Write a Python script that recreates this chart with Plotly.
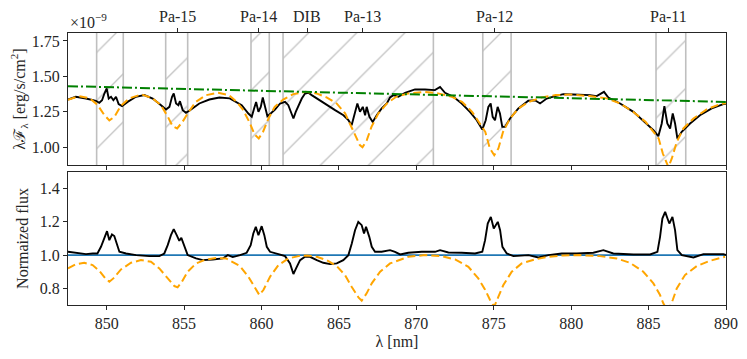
import plotly.graph_objects as go
import plotly.subplots as sp

# --- spectral windows (hatched) and line markers ---
span_lo = [849.35, 853.81, 859.32, 861.39, 874.29, 885.48]
span_hi = [851.07, 855.23, 860.50, 871.10, 876.12, 887.40]
line_wl = [854.54, 859.80, 862.95, 866.50, 875.05, 886.28]
line_names = ['Pa-15', 'Pa-14', 'DIB', 'Pa-13', 'Pa-12', 'Pa-11']

# --- continuum (x1e-9) ---
cont_wl = [847.5, 890.0]
cont_flux = [1.431, 1.320]

# --- model spectrum (x1e-9) ---
model_wl = [847.5, 848.2, 848.9, 849.4, 849.85, 850.17, 850.5, 850.9, 851.45, 852.25,
            852.95, 853.5, 853.95, 854.25, 854.55, 854.9, 855.3, 855.75, 856.4, 857.2,
            857.9, 858.4, 858.8, 859.25, 859.55, 859.82, 860.1, 860.45, 860.85, 861.4,
            862.05, 862.85, 863.55, 864.2, 864.85, 865.4, 865.7, 866.05, 866.35, 866.52,
            866.8, 867.1, 867.55, 868.1, 868.7, 869.5, 870.55, 871.4, 872.3, 872.95,
            873.6, 874.1, 874.45, 874.75, 875.03, 875.3, 875.6, 876.05, 876.6, 877.25,
            878.1, 879.0, 880.0, 881.2, 882.3, 883.15, 884.0, 884.8, 885.3, 885.65,
            885.92, 886.28, 886.5, 886.82, 887.25, 887.9, 888.75, 889.6, 890.0]
model_flux = [1.335, 1.361, 1.345, 1.300, 1.227, 1.190, 1.215, 1.290, 1.345, 1.373,
              1.346, 1.298, 1.215, 1.150, 1.133, 1.180, 1.250, 1.320, 1.367, 1.384,
              1.368, 1.320, 1.265, 1.170, 1.090, 1.062, 1.110, 1.203, 1.285, 1.337,
              1.375, 1.391, 1.380, 1.352, 1.309, 1.239, 1.168, 1.085, 1.015, 1.000,
              1.050, 1.144, 1.239, 1.309, 1.356, 1.380, 1.391, 1.380, 1.356, 1.320,
              1.250, 1.168, 1.109, 0.992, 0.944, 0.992, 1.109, 1.203, 1.274, 1.320,
              1.352, 1.368, 1.372, 1.361, 1.345, 1.309, 1.250, 1.180, 1.109, 1.062,
              0.956, 0.860, 0.921, 1.038, 1.133, 1.203, 1.267, 1.304, 1.310]

# --- observed spectrum (x1e-9) ---
obs_wl = [847.5, 848.0, 848.66, 849.3, 849.52, 849.7, 849.85, 850.0, 850.13, 850.28,
          850.43, 850.6, 850.77, 850.99, 851.35, 851.89, 852.43, 852.97, 853.51, 853.83,
          854.05, 854.22, 854.33, 854.48, 854.63, 854.73, 854.91, 855.12, 855.45, 855.98,
          856.63, 857.28, 857.95, 858.4, 858.72, 859.15, 859.37, 859.52, 859.65, 859.8,
          859.95, 860.08, 860.23, 860.38, 860.59, 860.87, 861.2, 861.52, 861.73, 861.95,
          862.06, 862.21, 862.38, 862.6, 862.81, 863.03, 863.24, 863.67, 864.21, 864.75,
          865.29, 865.61, 865.82, 866.04, 866.19, 866.36, 866.54, 866.69, 866.79, 866.97,
          867.18, 867.44, 867.76, 868.09, 868.3, 868.52, 868.84, 869.27, 869.91, 870.56,
          871.2, 871.53, 871.85, 872.39, 872.93, 873.46, 873.9, 874.26, 874.48, 874.65,
          874.8, 874.93, 875.08, 875.25, 875.4, 875.55, 875.73, 876.05, 876.59, 877.23,
          877.66, 877.99, 878.42, 878.96, 879.49, 880.14, 881.22, 881.65, 882.12, 882.4,
          883.16, 884.02, 884.77, 885.31, 885.63, 885.85, 886.02, 886.21, 886.39, 886.56,
          886.71, 886.86, 887.14, 887.68, 888.32, 889.08, 889.83, 890.0]
obs_flux = [1.337, 1.356, 1.344, 1.328, 1.314, 1.332, 1.379, 1.415, 1.344, 1.356,
            1.332, 1.356, 1.304, 1.290, 1.320, 1.356, 1.368, 1.344, 1.297, 1.266,
            1.285, 1.356, 1.379, 1.309, 1.297, 1.325, 1.262, 1.243, 1.266, 1.309,
            1.337, 1.351, 1.345, 1.314, 1.297, 1.238, 1.215, 1.274, 1.320, 1.250,
            1.285, 1.351, 1.285, 1.219, 1.238, 1.266, 1.309, 1.320, 1.297, 1.238,
            1.203, 1.250, 1.297, 1.344, 1.379, 1.384, 1.368, 1.337, 1.297, 1.262,
            1.226, 1.191, 1.156, 1.238, 1.309, 1.250, 1.285, 1.226, 1.285, 1.215,
            1.179, 1.226, 1.274, 1.309, 1.351, 1.368, 1.356, 1.384, 1.408, 1.408,
            1.403, 1.426, 1.384, 1.356, 1.309, 1.250, 1.191, 1.125, 1.191, 1.285,
            1.309, 1.215, 1.191, 1.285, 1.238, 1.144, 1.144, 1.203, 1.274, 1.328,
            1.332, 1.309, 1.344, 1.361, 1.375, 1.372, 1.368, 1.361, 1.391, 1.351,
            1.309, 1.250, 1.179, 1.121, 1.078, 1.168, 1.290, 1.168, 1.132, 1.238,
            1.168, 1.062, 1.109, 1.168, 1.226, 1.274, 1.304, 1.306]

# --- normalized flux (observed / model) ---
norm_wl = [847.5, 848.0, 848.66, 849.1, 849.4, 849.63, 849.85, 850.02, 850.17, 850.34,
           850.49, 850.65, 850.82, 851.25, 851.9, 852.75, 853.4, 853.72, 853.94, 854.15,
           854.33, 854.52, 854.69, 854.82, 855.01, 855.23, 855.77, 856.2, 856.85, 857.5,
           857.82, 858.14, 858.61, 859.04, 859.3, 859.47, 859.63, 859.8, 860.01, 860.18,
           860.34, 860.55, 861.09, 861.52, 861.84, 862.06, 862.23, 862.49, 862.81, 863.13,
           863.57, 863.99, 864.43, 864.86, 865.28, 865.61, 865.83, 866.04, 866.25, 866.47,
           866.62, 866.75, 866.96, 867.12, 867.33, 867.76, 868.3, 868.62, 868.95, 869.48,
           870.35, 871.21, 871.53, 872.07, 872.93, 873.79, 874.26, 874.44, 874.61, 874.81,
           875.0, 875.26, 875.41, 875.56, 875.84, 876.27, 877.24, 877.88, 878.53, 879.39,
           880.36, 881.43, 882.08, 882.72, 884.02, 885.1, 885.57, 885.74, 885.89, 886.07,
           886.22, 886.34, 886.54, 886.71, 886.86, 887.15, 887.9, 888.54, 889.83, 890.0]
norm_flux = [1.020, 1.014, 1.006, 1.010, 1.010, 1.050, 1.100, 1.144, 1.090, 1.124,
             1.115, 1.070, 1.020, 1.010, 1.000, 0.994, 0.994, 1.010, 1.060, 1.120,
             1.156, 1.120, 1.086, 1.104, 1.050, 1.000, 0.980, 0.970, 0.974, 0.980,
             1.000, 0.988, 1.000, 1.014, 1.060, 1.130, 1.170, 1.120, 1.174, 1.120,
             1.050, 1.020, 1.006, 0.994, 0.950, 0.886, 0.920, 0.970, 0.990, 0.990,
             0.970, 0.954, 0.946, 0.950, 0.970, 1.000, 1.070, 1.150, 1.200, 1.180,
             1.130, 1.170, 1.110, 1.050, 1.020, 1.020, 1.030, 1.020, 1.004, 1.014,
             1.020, 1.020, 1.030, 1.016, 1.014, 1.010, 1.020, 1.090, 1.190, 1.230,
             1.160, 1.200, 1.150, 1.050, 1.010, 0.994, 1.000, 0.986, 1.000, 1.010,
             1.010, 1.014, 1.030, 1.010, 1.004, 1.004, 1.020, 1.110, 1.220, 1.260,
             1.220, 1.190, 1.230, 1.150, 1.030, 1.000, 0.986, 1.006, 1.006, 1.000]

# --- normalized model (model / continuum) ---
nmod_wl = [847.5, 848.02, 848.55, 849.09, 849.52, 849.91, 850.17, 850.43, 850.92, 851.57,
           852.21, 852.86, 853.4, 853.94, 854.37, 854.58, 854.86, 855.23, 855.77, 856.41,
           857.06, 857.71, 858.61, 859.15, 859.58, 859.86, 860.12, 860.55, 861.09, 861.73,
           862.38, 862.92, 863.56, 864.21, 864.86, 865.39, 865.82, 866.26, 866.47, 866.79,
           867.12, 867.66, 868.3, 868.84, 869.48, 870.56, 871.63, 872.5, 873.36, 874.0,
           874.43, 874.76, 875.03, 875.3, 875.62, 876.16, 876.8, 877.66, 878.52, 879.49,
           880.57, 881.86, 882.94, 883.8, 884.66, 885.31, 885.74, 885.95, 886.25, 886.56,
           886.82, 887.35, 888.11, 888.97, 889.94]
nmod_flux = [0.920, 0.946, 0.954, 0.940, 0.906, 0.860, 0.840, 0.860, 0.914, 0.954,
             0.970, 0.960, 0.920, 0.860, 0.814, 0.806, 0.840, 0.900, 0.950, 0.974,
             0.982, 0.980, 0.934, 0.870, 0.800, 0.760, 0.790, 0.870, 0.940, 0.980,
             0.994, 0.998, 0.990, 0.970, 0.934, 0.880, 0.810, 0.746, 0.726, 0.770,
             0.830, 0.900, 0.950, 0.970, 0.990, 1.000, 0.994, 0.974, 0.930, 0.860,
             0.794, 0.730, 0.690, 0.750, 0.820, 0.900, 0.950, 0.974, 0.990, 0.998,
             1.000, 0.994, 0.980, 0.954, 0.900, 0.830, 0.760, 0.710, 0.660, 0.730,
             0.800, 0.880, 0.934, 0.966, 0.990]

FONT = 'Liberation Serif'
FS = 16
AX = '#262626'
XR = [847.5, 890]

fig = sp.make_subplots(rows=2, cols=1, shared_xaxes=True, vertical_spacing=0.03)

# hatched windows (one trace, gaps between rectangles)
hx, hy = [], []
for a, b in zip(span_lo, span_hi):
    hx += [a, a, b, b, a, None]
    hy += [0.5, 2.5, 2.5, 0.5, 0.5, None]
fig.add_trace(go.Scatter(x=hx, y=hy, mode='lines', fill='toself',
                         fillcolor='rgba(0,0,0,0)',
                         fillpattern=dict(shape='/', fgcolor='#c4c4c4', bgcolor='rgba(0,0,0,0)',
                                          size=34, solidity=0.04, fgopacity=1),
                         line=dict(color='#bfbfbf', width=1.6),
                         hoverinfo='skip', showlegend=False), row=1, col=1)

# top panel
fig.add_trace(go.Scatter(x=obs_wl, y=obs_flux, mode='lines',
                         line=dict(color='black', width=1.9), showlegend=False), row=1, col=1)
fig.add_trace(go.Scatter(x=model_wl, y=model_flux, mode='lines',
                         line=dict(color='#FFA500', width=2, dash='8px,4px'),
                         showlegend=False), row=1, col=1)
fig.add_trace(go.Scatter(x=cont_wl, y=cont_flux, mode='lines',
                         line=dict(color='#008000', width=2, dash='10px,3px,2px,3px'),
                         showlegend=False), row=1, col=1)

# bottom panel
fig.add_trace(go.Scatter(x=XR, y=[1, 1], mode='lines',
                         line=dict(color='#1f77b4', width=1.8), showlegend=False), row=2, col=1)
fig.add_trace(go.Scatter(x=norm_wl, y=norm_flux, mode='lines',
                         line=dict(color='black', width=1.9), showlegend=False), row=2, col=1)
fig.add_trace(go.Scatter(x=nmod_wl, y=nmod_flux, mode='lines',
                         line=dict(color='#FFA500', width=2, dash='8px,4px'),
                         showlegend=False), row=2, col=1)

# invisible trace so the top tick axis gets drawn
fig.add_trace(go.Scatter(x=line_wl, y=[1.5] * len(line_wl), xaxis='x3', yaxis='y',
                         mode='markers', marker=dict(opacity=0), hoverinfo='skip',
                         showlegend=False))

axis_common = dict(showline=True, linecolor=AX, linewidth=1.2, mirror=True,
                   ticks='outside', ticklen=4, tickwidth=1, tickcolor=AX,
                   showgrid=False, zeroline=False, automargin=False,
                   tickfont=dict(family=FONT, size=FS, color=AX))

# the page body adds an 8px margin, so the figure is sized to sit inside the window
fig.update_layout(
    width=731, height=343,
    margin=dict(l=60, r=13, t=25, b=46),
    plot_bgcolor='white', paper_bgcolor='white',
    font=dict(family=FONT, size=FS, color=AX),
    xaxis=dict(range=XR, tickvals=list(range(850, 891, 5)), showticklabels=False, **axis_common),
    xaxis2=dict(range=XR, tickvals=list(range(850, 891, 5)),
                title=dict(text='λ [nm]', font=dict(family=FONT, size=FS), standoff=4),
                **axis_common),
    yaxis=dict(domain=[0.5147, 1], range=[0.875, 1.806], tickvals=[1.0, 1.25, 1.5, 1.75],
               ticktext=['1.00', '1.25', '1.50', '1.75'],
               title=dict(text='λℱ<sub>λ</sub> [erg/s/cm<sup>2</sup>]',
                          font=dict(family=FONT, size=FS), standoff=5),
               **axis_common),
    yaxis2=dict(domain=[0, 0.489], range=[0.7, 1.5], tickvals=[0.8, 1.0, 1.2, 1.4],
                ticktext=['0.8', '1.0', '1.2', '1.4'],
                title=dict(text='Normaized flux', font=dict(family=FONT, size=FS), standoff=7),
                **axis_common),
    xaxis3=dict(overlaying='x', side='top', anchor='y', range=XR,
                tickmode='array', tickvals=line_wl, showticklabels=False,
                ticks='outside', ticklen=4, tickwidth=1, tickcolor=AX,
                showline=False, showgrid=False, zeroline=False, automargin=False),
)

# line labels above the top panel
for wl, name in zip(line_wl, line_names):
    fig.add_annotation(text=name, xref='x', yref='paper', x=wl, y=1,
                       xanchor='center', yanchor='bottom', yshift=6, showarrow=False,
                       font=dict(family=FONT, size=FS, color=AX))

fig.add_annotation(text='×10<sup>−9</sup>', xref='paper', yref='paper', x=0, y=1,
                   xanchor='left', yanchor='bottom', yshift=0, showarrow=False,
                   font=dict(family=FONT, size=FS, color=AX))

fig.write_html('out.html')
